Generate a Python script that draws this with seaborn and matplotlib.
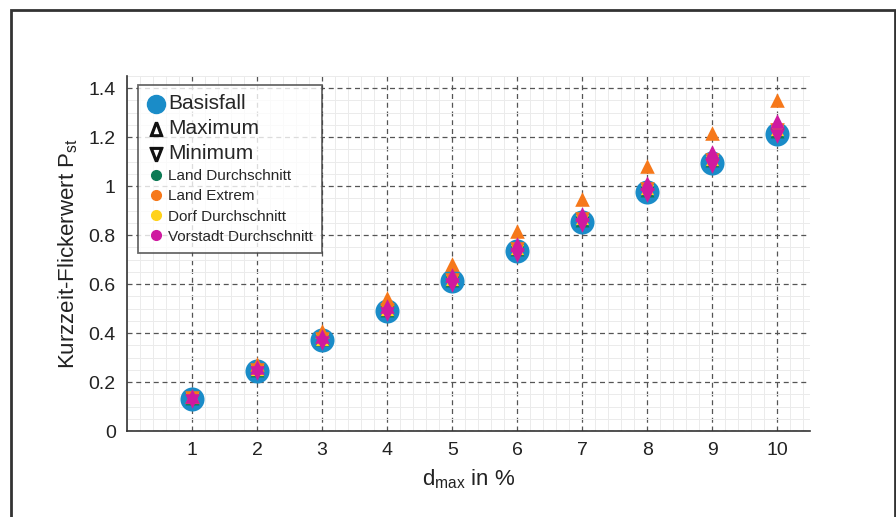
import numpy as np
import pandas as pd
import seaborn as sns
import matplotlib.pyplot as plt
import matplotlib.ticker as ticker
from matplotlib.lines import Line2D
from matplotlib.patches import Rectangle

# d_max in %
d_max = [1, 2, 3, 4, 5, 6, 7, 8, 9, 10]

basisfall = [0.13, 0.245, 0.37, 0.49, 0.612, 0.735, 0.855, 0.977, 1.095, 1.212]

land_avg_max = [0.133, 0.25, 0.375, 0.495, 0.618, 0.742, 0.862, 0.985, 1.105, 1.225]
land_avg_min = [0.128, 0.242, 0.365, 0.485, 0.607, 0.73, 0.85, 0.972, 1.09, 1.207]
land_ext_max = [0.145, 0.272, 0.41, 0.545, 0.683, 0.815, 0.948, 1.083, 1.217, 1.350]
land_ext_min = [0.133, 0.249, 0.374, 0.495, 0.618, 0.742, 0.864, 0.988, 1.108, 1.230]
dorf_max = [0.137, 0.253, 0.377, 0.499, 0.622, 0.746, 0.868, 0.992, 1.112, 1.234]
dorf_min = [0.131, 0.246, 0.37, 0.491, 0.613, 0.737, 0.858, 0.981, 1.10, 1.222]
vorstadt_max = [0.142, 0.262, 0.387, 0.512, 0.637, 0.763, 0.888, 1.012, 1.14, 1.265]
vorstadt_min = [0.123, 0.236, 0.358, 0.478, 0.598, 0.72, 0.842, 0.962, 1.082, 1.203]

colors = {
    "Basisfall": "#1a8cc8",
    "Land Durchschnitt": "#0d7a55",
    "Land Extrem": "#f6781a",
    "Dorf Durchschnitt": "#ffd21a",
    "Vorstadt Durchschnitt": "#cf1aa0",
}

sns.set_style("white")
plt.rcParams['font.family'] = ['Liberation Sans', 'DejaVu Sans']

f = plt.figure(figsize=(8.96, 5.17), dpi=100)
ax = f.add_axes([0.1417, 0.1663, 0.7623, 0.6867])

# figure frame
f.patches.append(Rectangle((11 / 896, -0.05), (895 - 11) / 896, 1 - 10 / 517 + 0.05,
                           transform=f.transFigure, fill=False,
                           edgecolor='#333333', linewidth=2))

sns.scatterplot(x=d_max, y=basisfall, color=colors["Basisfall"], s=300,
                marker='o', linewidth=0, ax=ax, zorder=3)

series = [
    ("Land Durchschnitt", land_avg_max, land_avg_min, 100),
    ("Dorf Durchschnitt", dorf_max, dorf_min, 90),
    ("Land Extrem", land_ext_max, land_ext_min, 110),
    ("Vorstadt Durchschnitt", vorstadt_max, vorstadt_min, 110),
]
for name, vmax, vmin, size in series:
    sns.scatterplot(x=d_max, y=vmax, color=colors[name], s=size, marker='^',
                    linewidth=0, ax=ax, zorder=4)
    sns.scatterplot(x=d_max, y=vmin, color=colors[name], s=size, marker='v',
                    linewidth=0, ax=ax, zorder=4)

ax.set_xlim(0, 10.5)
ax.set_ylim(0, 1.45)
ax.xaxis.set_minor_locator(ticker.MultipleLocator(0.2))
ax.yaxis.set_major_locator(ticker.MultipleLocator(0.2))
ax.yaxis.set_minor_locator(ticker.MultipleLocator(0.05))
ax.set_xticks(d_max)
ax.yaxis.set_major_formatter(ticker.FuncFormatter(lambda y, _: f'{y:g}'))

ax.grid(which='minor', linestyle='-', color='#ebebeb', linewidth=0.7, zorder=0)
ax.grid(which='major', linestyle=(0, (4, 3)), color='#555555', linewidth=0.9, zorder=1)
ax.set_axisbelow(True)

for s in ['top', 'right']:
    ax.spines[s].set_visible(False)
for s in ['left', 'bottom']:
    ax.spines[s].set_color('#333333')
    ax.spines[s].set_linewidth(1.2)
ax.tick_params(axis='both', which='both', direction='in', length=0,
               labelsize=14, colors='#222222', pad=8)

ax.set_xlabel(r'd$_{\mathregular{max}}$ in %', fontsize=16, color='#222222', labelpad=6)
ax.set_ylabel(r'Kurzzeit-Flickerwert P$_{\mathregular{st}}$', fontsize=16,
              color='#222222', labelpad=6)

handles = [
    Line2D([], [], linestyle='none', marker='o', markersize=13,
           color=colors["Basisfall"]),
    Line2D([], [], linestyle='none', marker=r'$\Delta$', markersize=10, color='#111111'),
    Line2D([], [], linestyle='none', marker=r'$\nabla$', markersize=10, color='#111111'),
    Line2D([], [], linestyle='none', marker='o', markersize=7,
           color=colors["Land Durchschnitt"]),
    Line2D([], [], linestyle='none', marker='o', markersize=7,
           color=colors["Land Extrem"]),
    Line2D([], [], linestyle='none', marker='o', markersize=7,
           color=colors["Dorf Durchschnitt"]),
    Line2D([], [], linestyle='none', marker='o', markersize=7,
           color=colors["Vorstadt Durchschnitt"]),
]
labels = ["Basisfall", "Maximum", "Minimum", "Land Durchschnitt", "Land Extrem",
          "Dorf Durchschnitt", "Vorstadt Durchschnitt"]
leg = ax.legend(handles, labels, loc='upper left', bbox_to_anchor=(0.016, 0.975),
                fontsize=11, frameon=True, fancybox=False, borderpad=0.6,
                handletextpad=0.2, handlelength=1.2, labelspacing=0.4,
                borderaxespad=0)
leg.get_frame().set_edgecolor('#444444')
leg.get_frame().set_linewidth(1.3)
for t in leg.get_texts()[:3]:
    t.set_fontsize(15)

plt.savefig('out.png', dpi=100)
